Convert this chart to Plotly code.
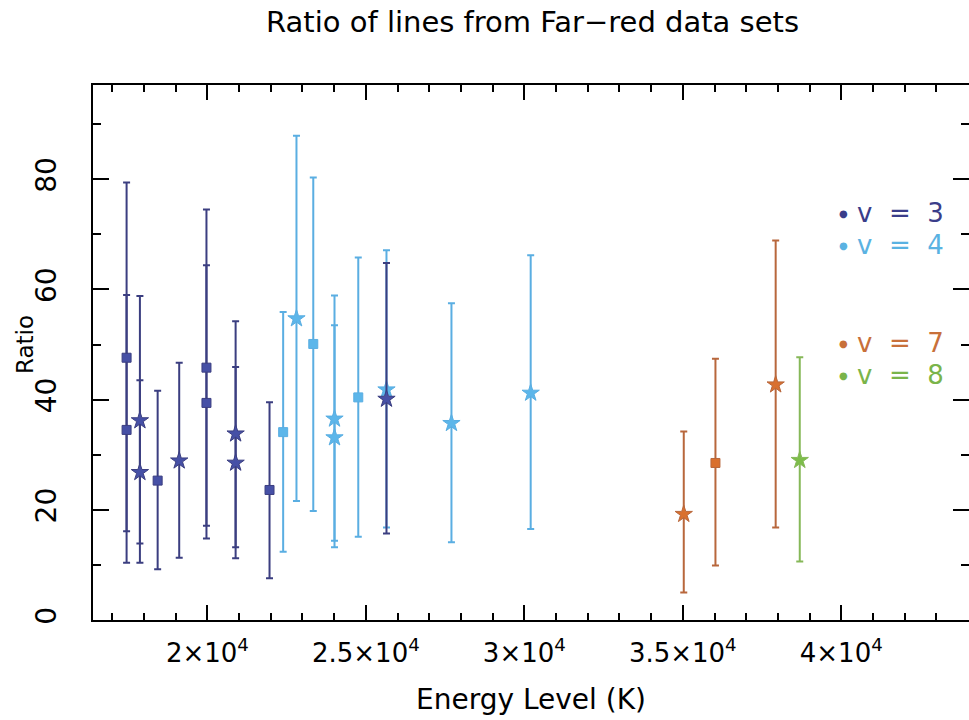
import plotly.graph_objects as go

# ---- data (energy level in K, ratio, error bar upper/lower ends) ----
v3_sq_E = [17450, 17450, 18430, 19970, 19970, 21960]
v3_sq_R = [47.6, 34.5, 25.3, 45.8, 39.4, 23.6]
v3_sq_hi = [79.4, 59.0, 41.6, 74.5, 64.4, 39.5]
v3_sq_lo = [16.1, 10.4, 9.2, 14.8, 17.1, 7.6]

v3_st_E = [17870, 17870, 19110, 20890, 20890, 25650]
v3_st_R = [36.2, 26.8, 28.9, 33.8, 28.5, 40.1]
v3_st_hi = [58.8, 43.5, 46.7, 54.2, 45.9, 64.8]
v3_st_lo = [13.9, 10.4, 11.3, 11.2, 13.2, 15.7]

v4_sq_E = [22390, 23340, 24760]
v4_sq_R = [34.1, 50.1, 40.4]
v4_sq_hi = [55.9, 80.3, 65.8]
v4_sq_lo = [12.4, 19.8, 15.1]

v4_st_E = [22810, 24010, 24010, 25650, 27700, 30200]
v4_st_R = [54.7, 36.5, 33.1, 41.8, 35.7, 41.2]
v4_st_hi = [87.9, 58.9, 53.5, 67.1, 57.5, 66.2]
v4_st_lo = [21.6, 14.4, 13.2, 16.8, 14.1, 16.5]

v7_sq_E = [36030]
v7_sq_R = [28.5]
v7_sq_hi = [47.4]
v7_sq_lo = [9.9]

v7_st_E = [35030, 37930]
v7_st_R = [19.2, 42.7]
v7_st_hi = [34.2, 68.9]
v7_st_lo = [5.0, 16.8]

v8_st_E = [38690]
v8_st_R = [29.0]
v8_st_hi = [47.7]
v8_st_lo = [10.6]

x_tickvals = [20000, 25000, 30000, 35000, 40000]
x_ticktext = ["2×10<sup>4</sup>", "2.5×10<sup>4</sup>", "3×10<sup>4</sup>",
              "3.5×10<sup>4</sup>", "4×10<sup>4</sup>"]
y_tickvals = [0, 20, 40, 60, 80]

legend_labels = ["v = 3", "v = 4", "v = 7", "v = 8"]

C3_bar, C3_mk = "#3b3e80", "#4650a6"
C4_bar, C4_mk = "#5aaee2", "#5cb6ea"
C7_bar, C7_mk = "#b8673c", "#d9702e"
C8_bar, C8_mk = "#86b858", "#7dbd4a"
legend_colors = ["#3a3d8a", "#5ab2e2", "#c8703a", "#7ab44a"]

fig = go.Figure()


def add(E, R, hi, lo, bar_c, mk_c, symbol, size):
    fig.add_trace(go.Scatter(
        x=E, y=R, mode="markers",
        marker=dict(symbol=symbol, size=size, color=mk_c,
                    line=dict(color=bar_c, width=1)),
        error_y=dict(type="data", symmetric=False,
                     array=[h - r for h, r in zip(hi, R)],
                     arrayminus=[r - l for r, l in zip(R, lo)],
                     color=bar_c, thickness=2, width=3.5),
        showlegend=False, hoverinfo="x+y"))


add(v4_sq_E, v4_sq_R, v4_sq_hi, v4_sq_lo, C4_bar, C4_mk, "square", 9)
add(v4_st_E, v4_st_R, v4_st_hi, v4_st_lo, C4_bar, C4_mk, "star", 13)
add(v3_sq_E, v3_sq_R, v3_sq_hi, v3_sq_lo, C3_bar, C3_mk, "square", 9)
add(v3_st_E, v3_st_R, v3_st_hi, v3_st_lo, C3_bar, C3_mk, "star", 13)
add(v7_sq_E, v7_sq_R, v7_sq_hi, v7_sq_lo, C7_bar, C7_mk, "square", 9)
add(v7_st_E, v7_st_R, v7_st_hi, v7_st_lo, C7_bar, C7_mk, "star", 13)
add(v8_st_E, v8_st_R, v8_st_hi, v8_st_lo, C8_bar, C8_mk, "star", 13)

FONT = "DejaVu Sans"

# legend as coloured text (pixel positions converted to paper coords)
L, R_, T, B = 93, 969, 85, 620
def px(x):
    return (x - L) / (R_ - L)
def py(y):
    return (B - y) / (B - T)

leg_y = [213, 245, 343, 375]
for lab, col, yy in zip(legend_labels, legend_colors, leg_y):
    fig.add_annotation(xref="paper", yref="paper", x=px(843), y=py(yy),
                       text="●", showarrow=False, xanchor="center",
                       yanchor="middle", font=dict(size=10, color=col,
                                                   family=FONT))
    fig.add_annotation(xref="paper", yref="paper", x=px(855), y=py(yy),
                       text=lab.replace(" = ", "  =  "), showarrow=False,
                       xanchor="left", yanchor="middle",
                       font=dict(size=26, color=col, family=FONT))

# y-axis title (placed between the rotated tick labels, as in the original)
fig.add_annotation(xref="paper", yref="paper", x=px(25), y=py(345),
                   text="Ratio", textangle=-90, showarrow=False,
                   xanchor="center", yanchor="middle",
                   font=dict(size=23, color="black", family=FONT))

axis_common = dict(showline=True, linecolor="black", linewidth=2,
                   mirror="ticks", ticks="inside", tickcolor="black",
                   tickwidth=2, showgrid=False, zeroline=False,
                   automargin=False)

fig.update_layout(
    width=969, height=720,
    margin=dict(l=L, r=0, t=T, b=720 - B),
    paper_bgcolor="white", plot_bgcolor="white",
    font=dict(family=FONT, color="black"),
    title=dict(text="Ratio of lines from Far−red data sets",
               x=0.5496, xanchor="center", y=1 - 22 / 720, yanchor="middle",
               font=dict(size=29, family=FONT, color="black")),
    xaxis=dict(range=[16390, 44030], tickvals=x_tickvals,
               ticktext=x_ticktext, ticklen=15, ticklabelstandoff=9,
               tickfont=dict(size=26, family=FONT),
               minor=dict(dtick=1000, tick0=0, ticks="inside", ticklen=7,
                          tickwidth=2, tickcolor="black"),
               title=dict(text="Energy Level (K)",
                          font=dict(size=28, family=FONT), standoff=22),
               **axis_common),
    yaxis=dict(range=[0, 97.1], tickvals=y_tickvals, ticklen=16,
               tickangle=-90, ticklabelstandoff=24,
               tickfont=dict(size=28, family=FONT),
               minor=dict(dtick=10, tick0=0, ticks="inside", ticklen=8,
                          tickwidth=2, tickcolor="black"),
               **axis_common),
)

fig.write_html("out.html")
